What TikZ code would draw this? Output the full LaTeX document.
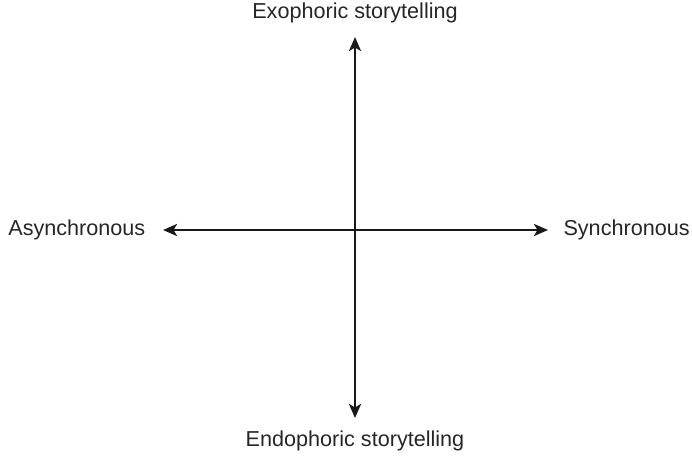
\documentclass[tikz,border=0pt]{standalone}
\usepackage{fontspec}
\setmainfont{Liberation Sans}
\usetikzlibrary{arrows.meta}

\begin{document}
\begin{tikzpicture}[x=0.02cm,y=-0.02cm,
every node/.style={font=\fontsize{12.3}{14}\selectfont,text=black!85,inner sep=0pt},
axis/.style={line width=1.5pt,black!90,{Stealth[length=0.28cm,width=0.24cm,inset=0.07cm]}-{Stealth[length=0.28cm,width=0.24cm,inset=0.07cm]}}]
\useasboundingbox (0,0) rectangle (692,457);
\def\cx{355}
\def\cy{230}
%labels round the cross
\node(exo) at (\cx,13) {Exophoric storytelling};
\node(endo) at (\cx,441) {Endophoric storytelling};
\node[anchor=west](asyn) at (8,\cy) {Asynchronous};
\node[anchor=east](syn) at (690,\cy) {Synchronous};
%ends of the two arrows
\coordinate(n) at (\cx,37);
\coordinate(s) at (\cx,418);
\coordinate(w) at (163,\cy);
\coordinate(e) at (548,\cy);
\draw[axis] (s) -- (n);
\draw[axis] (w) -- (e);
\end{tikzpicture}
\end{document}
